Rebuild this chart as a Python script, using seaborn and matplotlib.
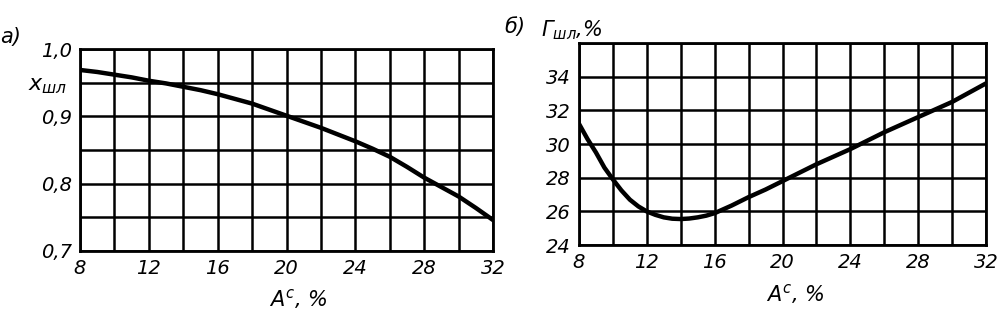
import matplotlib
matplotlib.use("Agg")
import matplotlib.pyplot as plt
import seaborn as sns
import numpy as np
import pandas as pd

# Data
ash_a = [8, 9, 10, 11, 12, 13, 14, 15, 16, 17, 18, 19, 20, 21, 22, 23, 24, 25, 26, 27, 28, 29, 30, 31, 32]
x_shl = [0.969, 0.966, 0.962, 0.958, 0.953, 0.949, 0.944, 0.939, 0.933, 0.926, 0.919, 0.910, 0.901,
         0.892, 0.883, 0.873, 0.863, 0.852, 0.840, 0.825, 0.809, 0.795, 0.781, 0.764, 0.746]

ash_b = [8, 8.5, 9, 9.5, 10, 10.5, 11, 11.5, 12, 12.5, 13, 13.5, 14, 14.5, 15, 15.5, 16, 17, 18, 19, 20,
         22, 24, 26, 28, 30, 32]
g_shl = [31.2, 30.3, 29.5, 28.6, 27.9, 27.25, 26.7, 26.3, 26.0, 25.8, 25.65, 25.57, 25.55, 25.58, 25.65,
         25.75, 25.9, 26.35, 26.85, 27.3, 27.8, 28.8, 29.7, 30.7, 31.6, 32.5, 33.6]

xticks = [8, 12, 16, 20, 24, 28, 32]
yticks_a = [0.7, 0.8, 0.9, 1.0]
yticklabels_a = ["0,7", "0,8", "0,9", "1,0"]
yticks_b = [24, 26, 28, 30, 32, 34]

sns.set_style("white")
plt.rcParams['font.family'] = ['DejaVu Sans']
plt.rcParams['font.style'] = 'italic'
plt.rcParams['mathtext.fontset'] = 'dejavusans'
plt.rcParams['mathtext.default'] = 'it'
plt.rcParams['text.color'] = 'black'
plt.rcParams['xtick.color'] = 'black'
plt.rcParams['ytick.color'] = 'black'

fig = plt.figure(figsize=(10, 3.23), dpi=100)
ax1 = fig.add_axes([0.080, 0.223, 0.413, 0.625])
ax2 = fig.add_axes([0.579, 0.241, 0.407, 0.626])

dfa = pd.DataFrame({"A": ash_a, "x": x_shl})
dfb = pd.DataFrame({"A": ash_b, "g": g_shl})

def style(ax, ylo, yhi, ystep):
    ax.set_xlim(8, 32)
    ax.set_ylim(ylo, yhi)
    for v in np.arange(8, 32.01, 2):
        ax.axvline(v, color="black", lw=1.8, zorder=1)
    for v in np.arange(ylo, yhi + 1e-9, ystep):
        ax.axhline(v, color="black", lw=1.8, zorder=1)
    for s in ax.spines.values():
        s.set_linewidth(2.0)
        s.set_color("black")
    ax.tick_params(length=0, labelsize=14, pad=6, labelcolor="black")
    ax.set_xticks(xticks)
    ax.set_xticklabels([str(t) for t in xticks], fontstyle='italic')
    ax.set_xlabel("")
    ax.set_ylabel("")

sns.lineplot(data=dfa, x="A", y="x", ax=ax1, color="black", lw=3.2, zorder=3)
style(ax1, 0.7, 1.0, 0.05)
ax1.set_yticks(yticks_a)
ax1.set_yticklabels(yticklabels_a, fontstyle='italic')

sns.lineplot(data=dfb, x="A", y="g", ax=ax2, color="black", lw=3.2, zorder=3)
style(ax2, 24, 36, 2)
ax2.set_yticks(yticks_b)
ax2.set_yticklabels([str(t) for t in yticks_b], fontstyle='italic')

# Annotations
fig.text(0.000, 0.885, "а)", fontsize=15, style='italic', ha='left', va='center')
fig.text(0.028, 0.735, r"$x_{шл}$", fontsize=16, ha='left', va='center')

fig.text(0.504, 0.915, "б)", fontsize=15, style='italic', ha='left', va='center')
fig.text(0.541, 0.905, r"$Г_{шл}$,%", fontsize=15, style='italic', ha='left', va='center')

fig.text(0.298, 0.075, r"$A^{c}$, %", fontsize=15, style='italic', ha='center', va='center')
fig.text(0.795, 0.090, r"$A^{c}$, %", fontsize=15, style='italic', ha='center', va='center')

fig.savefig("out.png", dpi=100, facecolor="white")
